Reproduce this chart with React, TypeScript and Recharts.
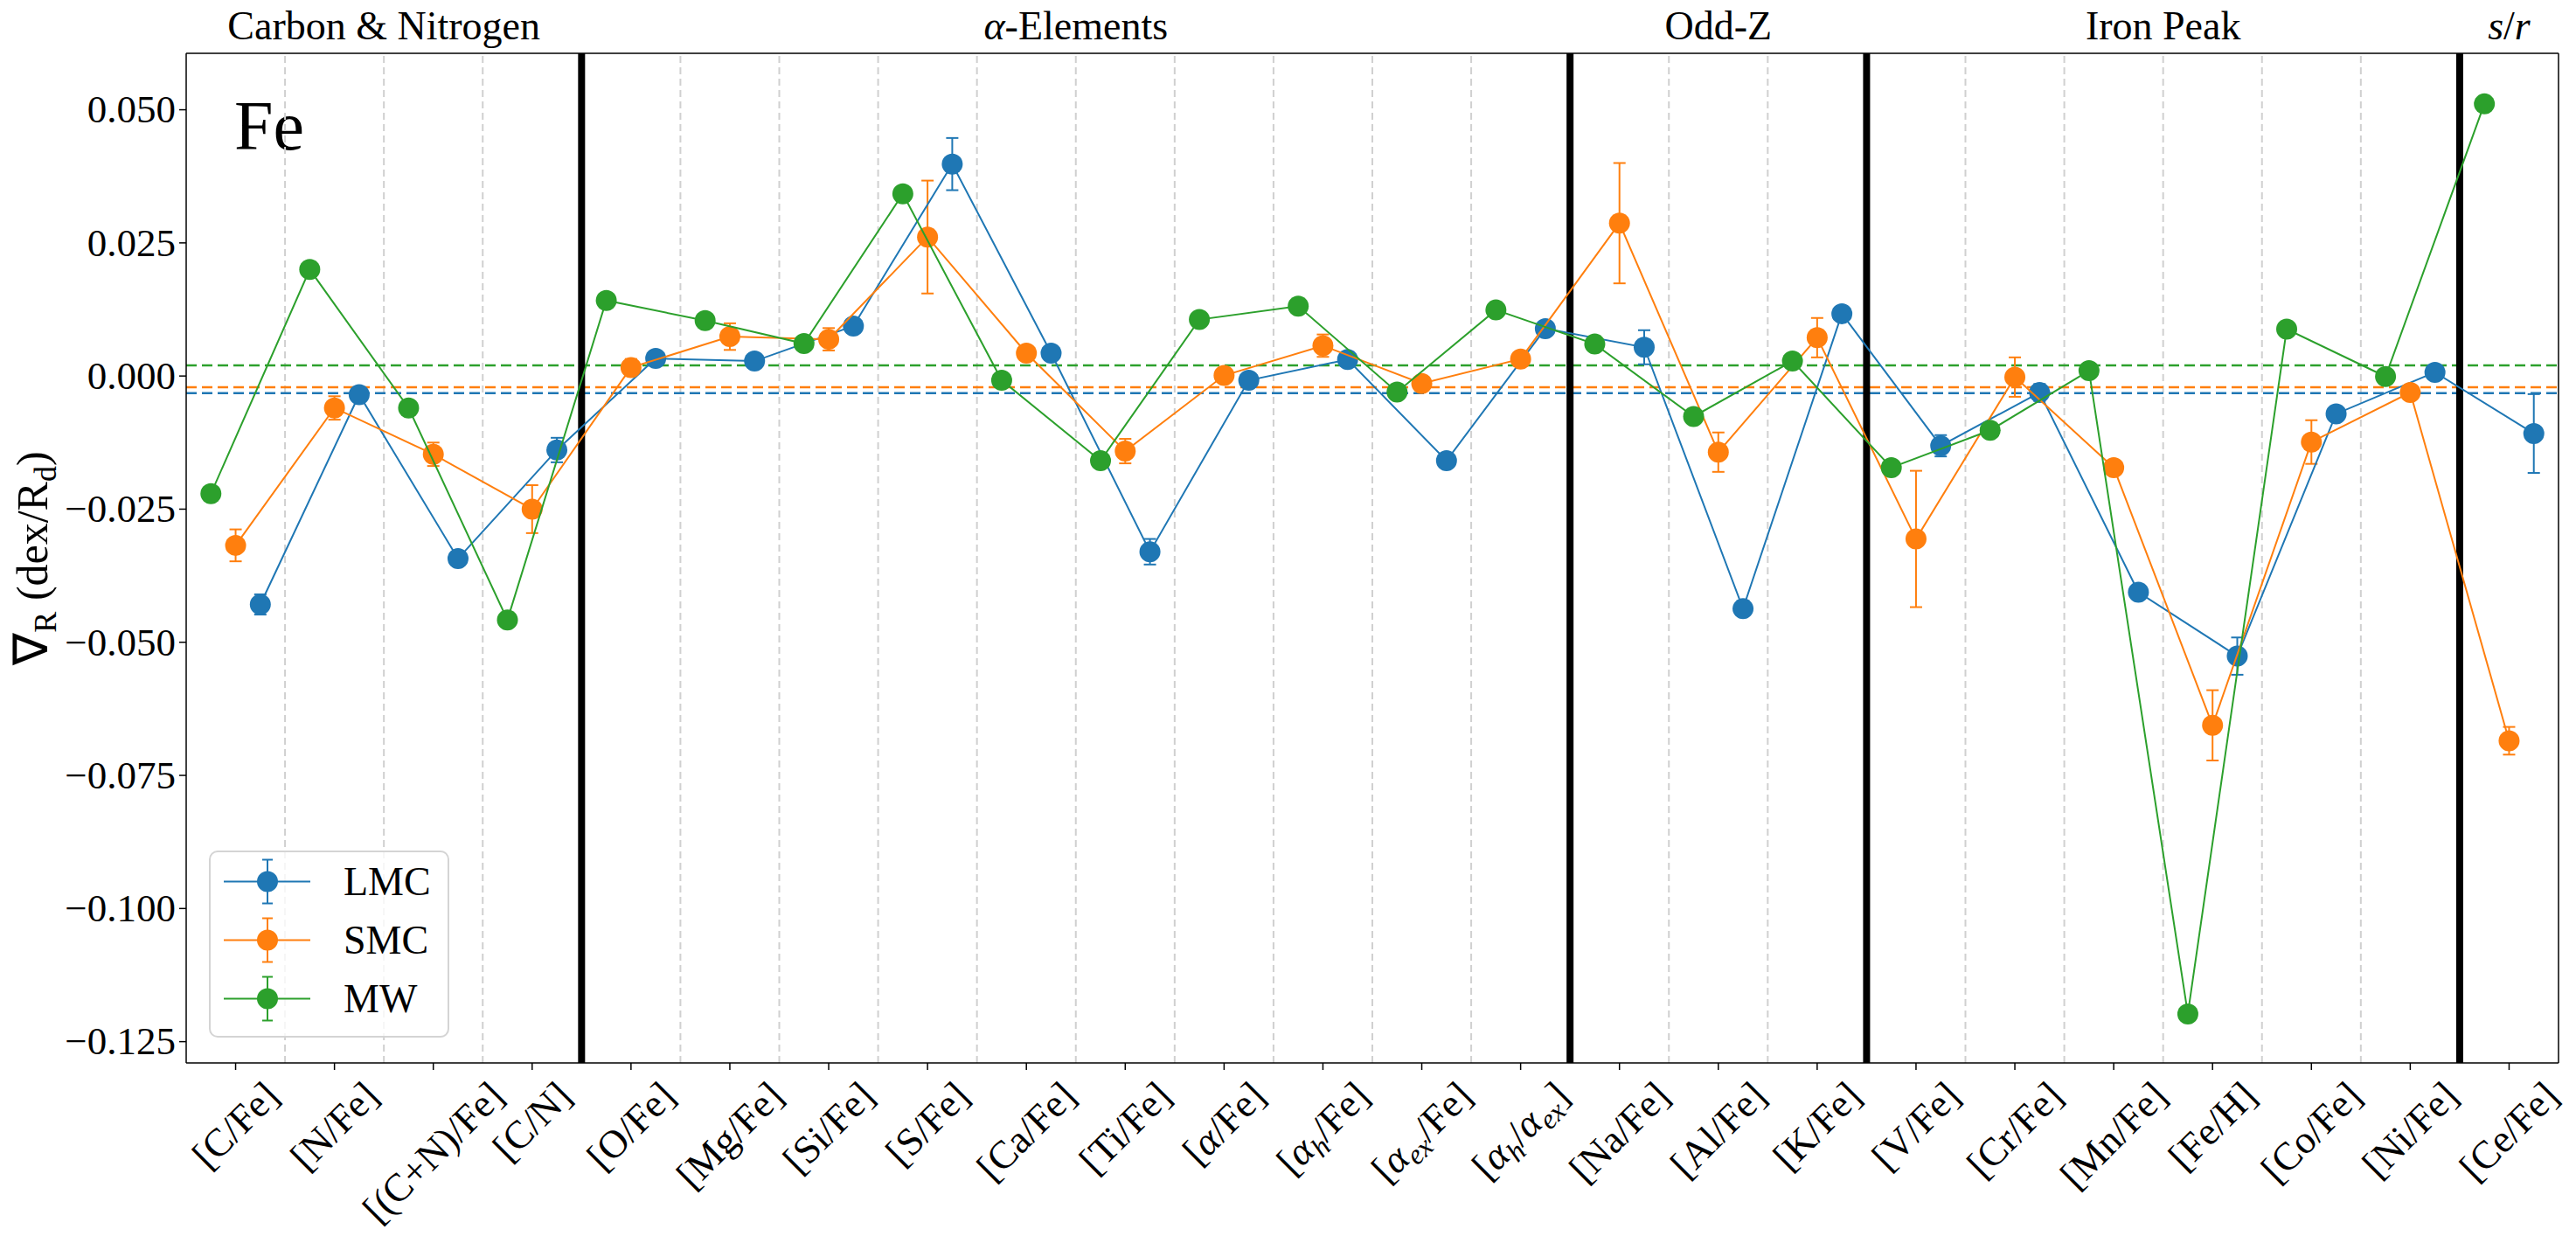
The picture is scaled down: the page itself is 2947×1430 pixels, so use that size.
import {
  ComposedChart,
  ErrorBar,
  Legend,
  ReferenceArea,
  ReferenceLine,
  Scatter,
  XAxis,
  YAxis,
} from 'recharts'

const FONT = '"Liberation Serif", "Times New Roman", serif'
const TICK_FS = 45
const TITLE_FS = 46

// abundance ratios along the x axis ($..$ = italic, _{..} = subscript)
const elements = [
  '[C/Fe]', '[N/Fe]', '[(C+N)/Fe]', '[C/N]',
  '[O/Fe]', '[Mg/Fe]', '[Si/Fe]', '[S/Fe]', '[Ca/Fe]', '[Ti/Fe]',
  '[$α$/Fe]', '[$α$_{$h$}/Fe]', '[$α$_{$ex$}/Fe]', '[$α$_{$h$}/$α$_{$ex$}]',
  '[Na/Fe]', '[Al/Fe]', '[K/Fe]',
  '[V/Fe]', '[Cr/Fe]', '[Mn/Fe]', '[Fe/H]', '[Co/Fe]', '[Ni/Fe]',
  '[Ce/Fe]',
]

const groupNames = ['Carbon & Nitrogen', '$α$-Elements', 'Odd-Z', 'Iron Peak', '$s$/$r$']
const groupSizes = [4, 10, 3, 6, 1]

// radial gradients (dex / R_d)
const lmcGrad = [
  -0.0429, -0.0035, -0.0343, -0.0139,
  0.0033, 0.0028, 0.0094, 0.0398, 0.0043, -0.033, -0.0008, 0.0031, -0.0159, 0.0089,
  0.0054, -0.0437, 0.0117,
  -0.0131, -0.0031, -0.0406, -0.0526, -0.0071, 0.0007,
  -0.0108,
]
const lmcErr = [
  0.0019, 0.001, 0.0008, 0.0023,
  0.0008, 0.0008, 0.0008, 0.0049, 0.0008, 0.0024, 0.0008, 0.0008, 0.0008, 0.0008,
  0.0032, 0.0008, 0.0014,
  0.002, 0.0016, 0.0008, 0.0035, 0.0012, 0.0008,
  0.0074,
]
const smcGrad = [
  -0.0318, -0.006, -0.0147, -0.025,
  0.0016, 0.0074, 0.0069, 0.0261, 0.0043, -0.0141, 0.0001, 0.0057, -0.0014, 0.0032,
  0.0287, -0.0143, 0.0072,
  -0.0306, -0.0002, -0.0172, -0.0656, -0.0124, -0.0031,
  -0.0685,
]
const smcErr = [
  0.003, 0.0022, 0.0022, 0.0045,
  0.0016, 0.0025, 0.0021, 0.0106, 0.0008, 0.0023, 0.0008, 0.0021, 0.001, 0.0008,
  0.0113, 0.0037, 0.0037,
  0.0128, 0.0037, 0.0012, 0.0066, 0.0041, 0.0008,
  0.0026,
]
const mwGrad = [
  -0.0221, 0.02, -0.006, -0.0458,
  0.0142, 0.0104, 0.0061, 0.0342, -0.0008, -0.0159, 0.0106, 0.0131, -0.003, 0.0124,
  0.006, -0.0076, 0.0028,
  -0.0172, -0.0102, 0.001, -0.1198, 0.0088, -0.0001,
  0.0511,
]
const mwErr = [
  0.0005, 0.0005, 0.0005, 0.0005,
  0.0005, 0.0005, 0.0005, 0.0005, 0.0005, 0.0005, 0.0005, 0.0005, 0.0005, 0.0005,
  0.0005, 0.0005, 0.0005,
  0.0005, 0.0005, 0.0005, 0.0005, 0.0005, 0.0005,
  0.0005,
]

const seriesNames = ['LMC', 'SMC', 'MW']
const seriesColors = ['#1f77b4', '#ff7f0e', '#2ca02c']
const seriesShift = [0.25, 0, -0.25]
const seriesMedian = [-0.0032, -0.0021, 0.002]
const seriesValues = [lmcGrad, smcGrad, mwGrad]
const seriesErrors = [lmcErr, smcErr, mwErr]

const yTicks = [-0.125, -0.1, -0.075, -0.05, -0.025, 0, 0.025, 0.05]
const Y_MIN = -0.129
const Y_MAX = 0.0606

type Seg = { t: string; italic?: boolean; sub?: boolean }

function parseMath(s: string): Seg[] {
  const out: Seg[] = []
  const re = /_\{([^}]*)\}|\$([^$]*)\$|([^_$]+)/g
  let m: RegExpExecArray | null
  while ((m = re.exec(s))) {
    if (m[1] !== undefined) out.push({ t: m[1].replace(/\$/g, ''), sub: true, italic: m[1].includes('$') })
    else if (m[2] !== undefined) out.push({ t: m[2], italic: true })
    else out.push({ t: m[3] })
  }
  return out
}

let ctx: CanvasRenderingContext2D | null = null
function segWidth(segs: Seg[], fs: number) {
  if (!ctx) ctx = document.createElement('canvas').getContext('2d')
  if (!ctx) return segs.reduce((a, s) => a + s.t.length * fs * 0.5, 0)
  let w = 0
  for (const s of segs) {
    ctx.font = `${s.italic ? 'italic ' : ''}${s.sub ? fs * 0.72 : fs}px ${FONT}`
    w += ctx.measureText(s.t).width
  }
  return w
}

function renderSegs(segs: Seg[], fs: number) {
  let shift = 0
  return segs.map((s, k) => {
    const target = s.sub ? fs * 0.2 : 0
    const dy = target - shift
    shift = target
    const size = s.sub ? fs * 0.72 : s.t === '∇' ? fs * 1.1 : fs
    return (
      <tspan key={k} dy={dy || undefined} fontSize={size} fontStyle={s.italic ? 'italic' : 'normal'}>
        {s.t}
      </tspan>
    )
  })
}

function XTick(props: any) {
  const { x, y, payload } = props
  const segs = parseMath(elements[payload.value])
  const w = segWidth(segs, TICK_FS)
  const d = (w + TICK_FS) / (2 * Math.SQRT2)
  return (
    <text
      transform={`translate(${x},${y + d}) rotate(-45)`}
      x={0}
      y={TICK_FS * 0.33}
      textAnchor="middle"
      fontSize={TICK_FS}
      fontFamily={FONT}
      fill="#000"
    >
      {renderSegs(segs, TICK_FS)}
    </text>
  )
}

function YTick(props: any) {
  const { x, y, payload } = props
  const v = payload.value as number
  const s = (v < 0 ? '\u2212' : '') + Math.abs(v).toFixed(3)
  return (
    <text x={x} y={y + TICK_FS * 0.33} textAnchor="end" fontSize={TICK_FS} fontFamily={FONT} fill="#000">
      {s}
    </text>
  )
}

function YLabel(props: any) {
  const vb = props.viewBox
  const cy = vb.y + vb.height / 2
  return (
    <text
      transform={`translate(38,${cy}) rotate(-90)`}
      y={16}
      textAnchor="middle"
      fontSize={50}
      fontFamily={FONT}
      fill="#000"
    >
      {renderSegs(parseMath('∇_{R} (dex/R_{d})'), 50)}
    </text>
  )
}

function GroupTitle({ viewBox, text }: any) {
  if (!viewBox) return null
  return (
    <text
      x={viewBox.x + viewBox.width / 2}
      y={viewBox.y - 16}
      textAnchor="middle"
      fontSize={TITLE_FS}
      fontFamily={FONT}
      fill="#000"
    >
      {renderSegs(parseMath(text), TITLE_FS)}
    </text>
  )
}

function PanelTag({ viewBox }: any) {
  if (!viewBox) return null
  return (
    <text x={viewBox.x + 55} y={viewBox.y + 110} fontSize={80} fontFamily={FONT} fill="#000">
      Fe
    </text>
  )
}

function LegendBox({ payload }: any) {
  const items = seriesNames.map((n, i) => {
    const p = (payload ?? []).find((q: any) => q.value === n)
    return { name: n, color: p?.color ?? seriesColors[i] }
  })
  return (
    <div
      style={{
        width: 275,
        height: 214,
        boxSizing: 'border-box',
        border: '2px solid #d4d4d4',
        borderRadius: 10,
        background: 'rgba(255,255,255,0.8)',
        fontFamily: FONT,
      }}
    >
      {items.map((it) => (
        <div key={it.name} style={{ display: 'flex', alignItems: 'center', height: 67 }}>
          <svg width={140} height={67} style={{ flex: 'none' }}>
            <line x1={15} x2={114} y1={33.5} y2={33.5} stroke={it.color} strokeWidth={2} />
            <line x1={65} x2={65} y1={8.5} y2={58.5} stroke={it.color} strokeWidth={2} />
            <line x1={59} x2={71} y1={8.5} y2={8.5} stroke={it.color} strokeWidth={2} />
            <line x1={59} x2={71} y1={58.5} y2={58.5} stroke={it.color} strokeWidth={2} />
            <circle cx={65} cy={33.5} r={12} fill={it.color} />
          </svg>
          <span style={{ fontSize: 46, marginLeft: 12, lineHeight: 1 }}>{it.name}</span>
        </div>
      ))}
    </div>
  )
}

const dotShape = (color: string) => (p: any) => <circle cx={p.cx} cy={p.cy} r={12} fill={color} />

export default function App() {
  const groupStart = groupSizes.map((_, g) => groupSizes.slice(0, g).reduce((a, b) => a + b, 0))
  const thick = groupStart.slice(1).map((s) => s - 0.5)
  const thin = elements
    .map((_, k) => k - 0.5)
    .filter((v) => v > 0 && !thick.includes(v))

  const series = seriesNames.map((name, s) => ({
    name,
    color: seriesColors[s],
    data: elements.map((_, i) => ({
      x: i + seriesShift[s],
      y: seriesValues[s][i],
      err: seriesErrors[s][i],
    })),
  }))

  return (
    <div style={{ position: 'absolute', left: 0, top: 0, background: '#fff', fontFamily: FONT }}>
      <ComposedChart width={2947} height={1430} margin={{ top: 61, right: 20, bottom: 0, left: 8 }}>
        <XAxis
          type="number"
          dataKey="x"
          domain={[-0.5, elements.length - 0.5]}
          ticks={elements.map((_, i) => i)}
          interval={0}
          allowDataOverflow
          height={214}
          tickSize={8}
          tickMargin={6}
          axisLine={{ stroke: '#000', strokeWidth: 1.5 }}
          tickLine={{ stroke: '#000', strokeWidth: 1.5 }}
          tick={<XTick />}
        />
        <YAxis
          type="number"
          dataKey="y"
          domain={[Y_MIN, Y_MAX]}
          ticks={yTicks}
          allowDataOverflow
          width={205}
          tickSize={8}
          tickMargin={4}
          axisLine={{ stroke: '#000', strokeWidth: 1.5 }}
          tickLine={{ stroke: '#000', strokeWidth: 1.5 }}
          tick={<YTick />}
          label={(p: any) => <YLabel {...p} />}
        />

        {thin.map((v) => (
          <ReferenceLine key={`g${v}`} x={v} stroke="#d0d0d0" strokeWidth={2} strokeDasharray="8 5" />
        ))}
        {series.map((s, k) => (
          <ReferenceLine key={`m${s.name}`} y={seriesMedian[k]} stroke={s.color} strokeWidth={2.5} strokeDasharray="12 6" />
        ))}
        {groupNames.map((name, g) => (
          <ReferenceArea
            key={name}
            x1={groupStart[g] - 0.5}
            x2={groupStart[g] + groupSizes[g] - 0.5}
            fill="none"
            stroke="none"
            label={(p: any) => <GroupTitle viewBox={p.viewBox} text={name} />}
          />
        ))}
        <ReferenceArea
          x1={-0.5}
          x2={elements.length - 0.5}
          fill="none"
          stroke="none"
          label={(p: any) => <PanelTag viewBox={p.viewBox} />}
        />

        {series.map((s) => (
          <Scatter
            key={s.name}
            name={s.name}
            data={s.data}
            fill={s.color}
            line={{ stroke: s.color, strokeWidth: 2 }}
            lineType="joint"
            shape={dotShape(s.color)}
            isAnimationActive={false}
          >
            <ErrorBar dataKey="err" direction="y" width={7} stroke={s.color} strokeWidth={2} />
          </Scatter>
        ))}

        {thick.map((v) => (
          <ReferenceLine key={`t${v}`} x={v} stroke="#000" strokeWidth={8} />
        ))}
        <ReferenceLine y={Y_MAX} stroke="#000" strokeWidth={1.5} />
        <ReferenceLine x={elements.length - 0.5} stroke="#000" strokeWidth={1.5} />

        <Legend
          layout="horizontal"
          verticalAlign="middle"
          align="center"
          content={<LegendBox />}
          wrapperStyle={{ left: 239, top: 973, width: 275, height: 214 }}
        />
      </ComposedChart>
    </div>
  )
}
